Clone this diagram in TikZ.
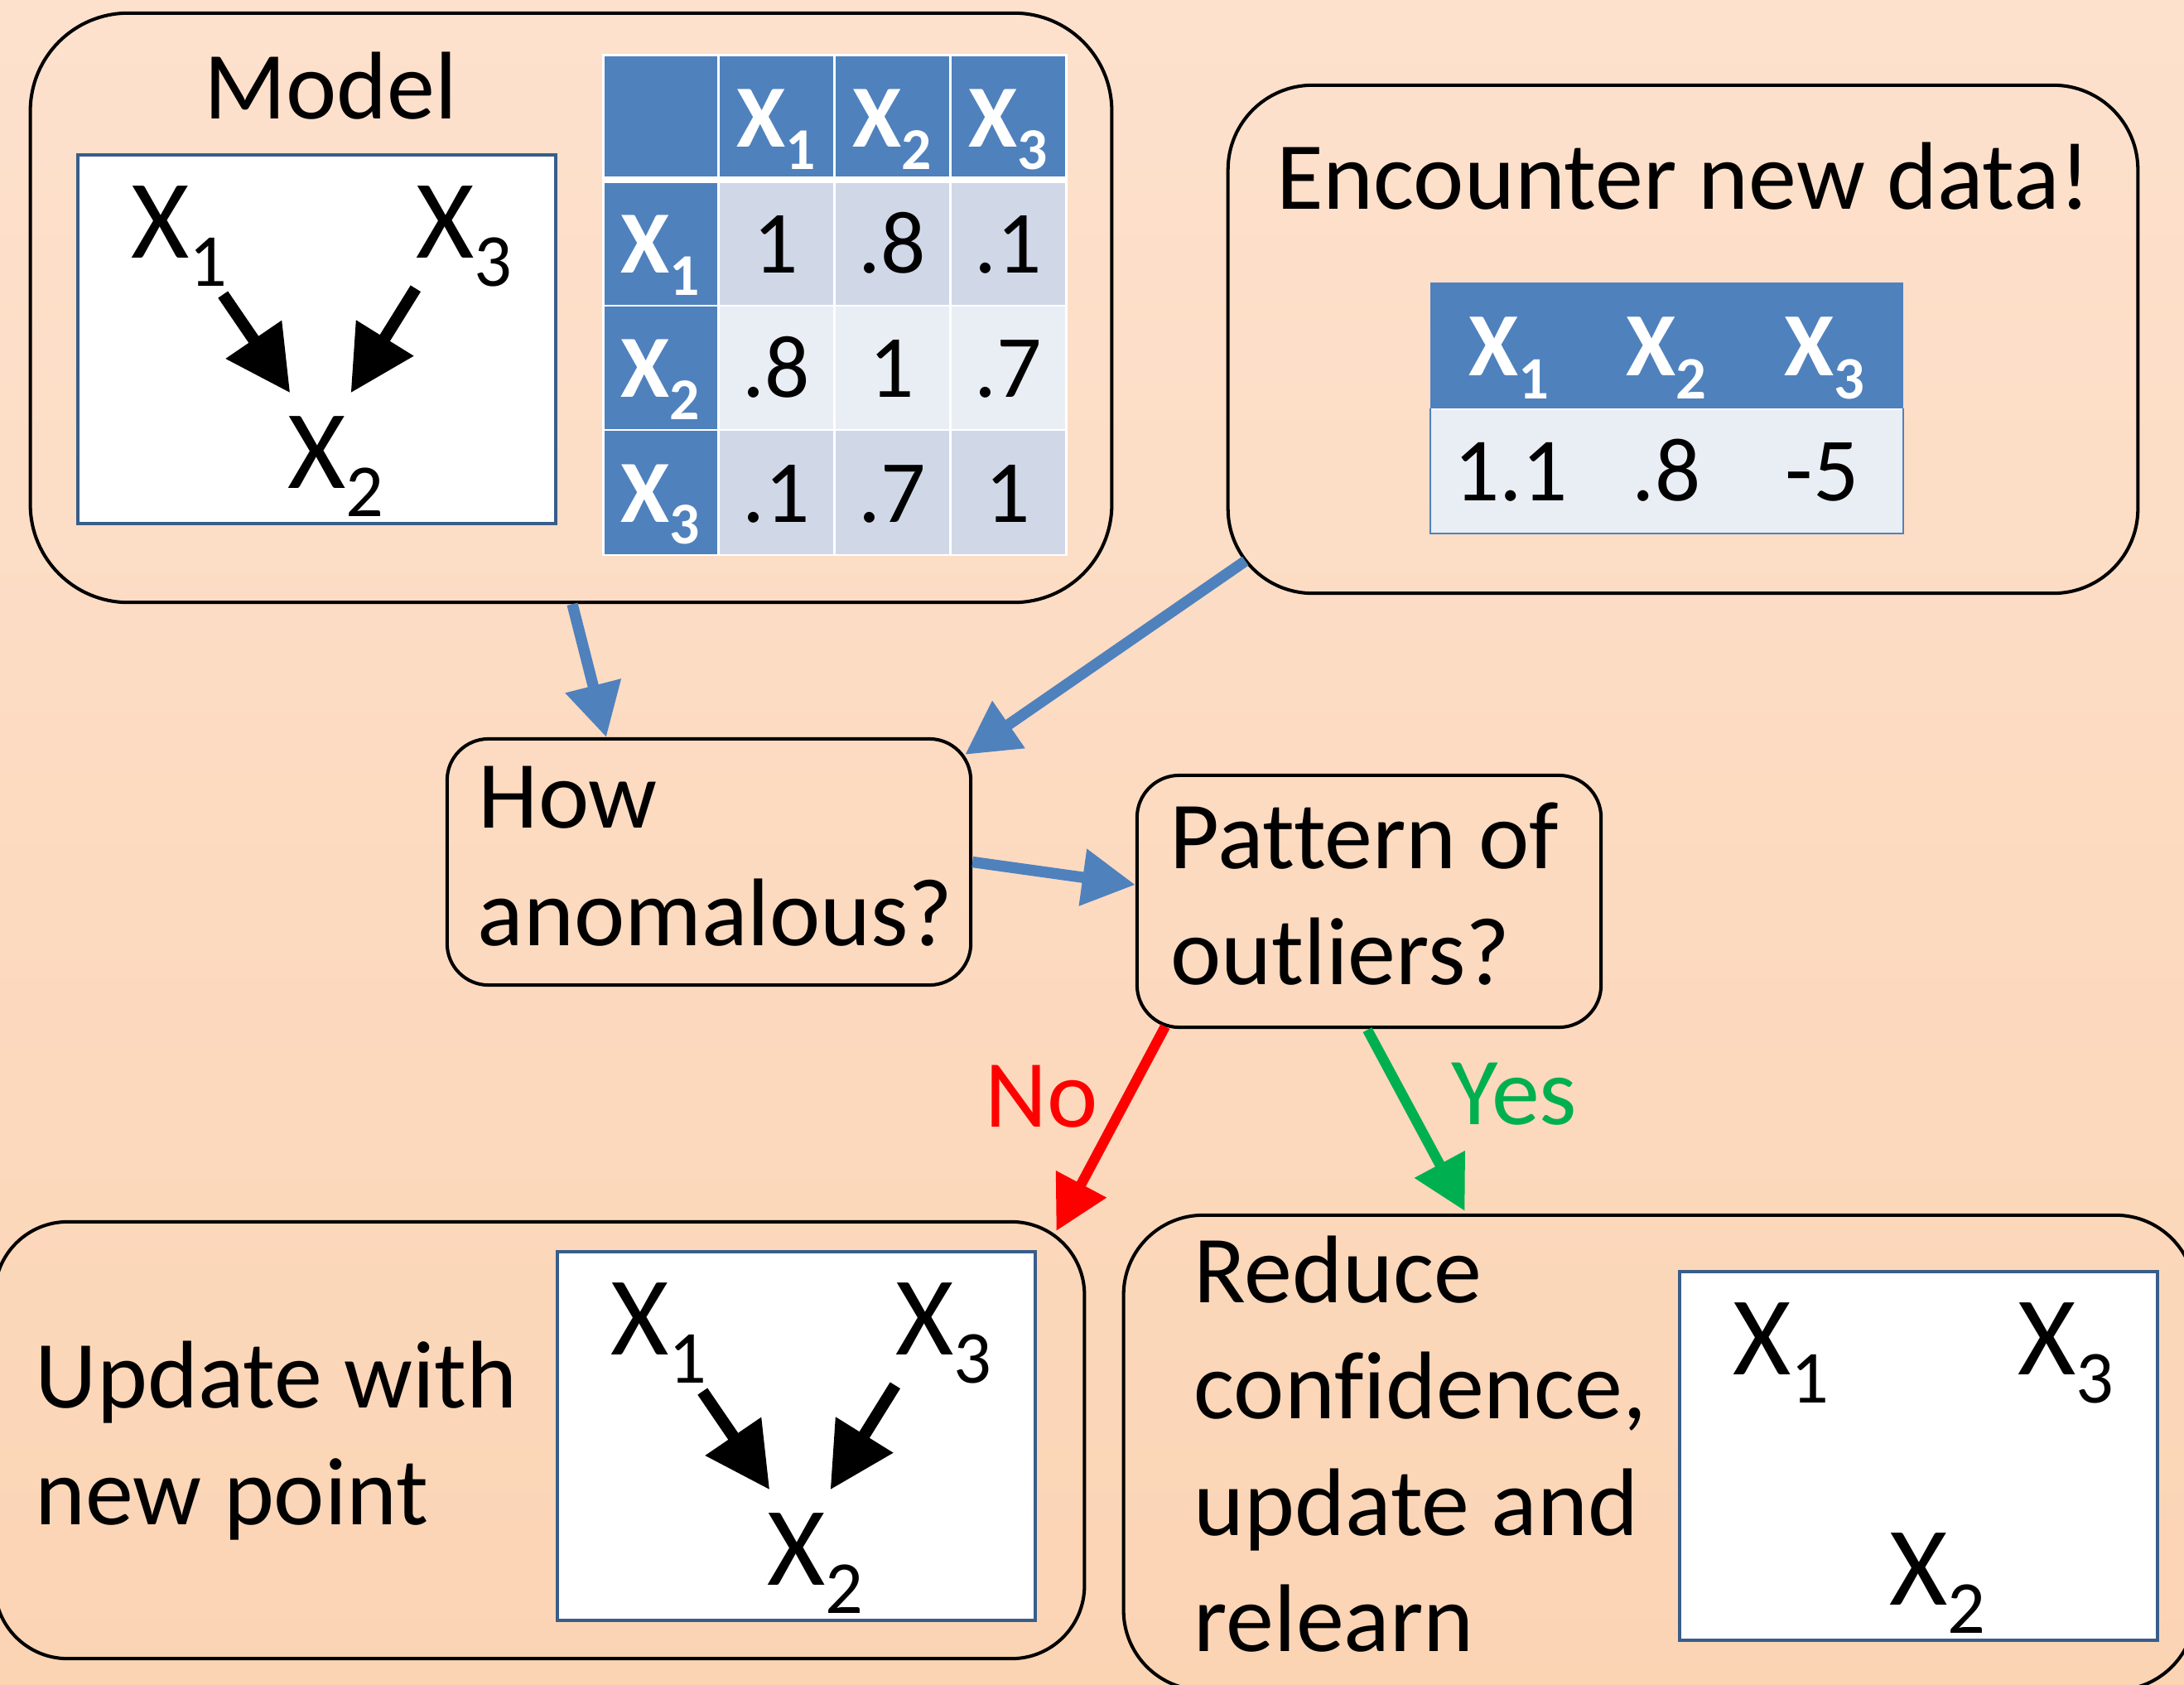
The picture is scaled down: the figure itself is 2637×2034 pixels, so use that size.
\documentclass[tikz,border=0pt]{standalone}
\usepackage{fontspec}
\setmainfont{Carlito}[Ligatures=NoCommon]
\usepackage{graphicx}
\usetikzlibrary{arrows.meta,calc}

\definecolor{bgtop}{RGB}{253,225,205}
\definecolor{bgbot}{RGB}{251,212,180}
\definecolor{hdrblue}{RGB}{79,129,189}
\definecolor{rowdark}{RGB}{208,216,232}
\definecolor{rowlight}{RGB}{233,237,244}
\definecolor{frameblue}{RGB}{56,93,138}
\definecolor{flowblue}{RGB}{79,129,189}
\definecolor{nored}{RGB}{255,0,0}
\definecolor{yesgreen}{RGB}{0,176,80}

% subscript index: two thirds size, lowered a quarter em
\newcommand\subidx[1]{\raisebox{-0.25em}{\scalebox{0.667}{#1}}}

\tikzset{
  panel/.style={draw=black, line width=1.15pt, rectangle, inner sep=0pt},
  graphframe/.style={draw=frameblue, fill=white, line width=1.3pt, rectangle,
    inner sep=0pt, minimum width=5.77cm, minimum height=4.45cm},
  bodytext/.style={inner sep=0pt, anchor=base west, font=\fontsize{33}{40}\selectfont},
  varlabel/.style={inner sep=0pt, anchor=base west, font=\fontsize{38.5}{44}\selectfont},
  celltext/.style={inner sep=0pt, anchor=base, font=\fontsize{30.5}{36}\selectfont},
  cellhead/.style={inner sep=0pt, anchor=base, text=white, font=\fontsize{30.5}{36}\selectfont\bfseries},
  flow/.style={line width=3.8pt, -{Triangle[length=0.64cm,width=0.66cm]}},
  edgearrow/.style={line width=4.1pt, -{Triangle[length=0.78cm,width=0.78cm]}},
}

% white frame with three variables; #1 name prefix, #2 centre
\newcommand\causalgraph[2]{%
  \node[graphframe] (#1) at (#2) {};
  \node[varlabel] (#1x1) at ($(#1.north west)+(66,127)$) {X\subidx{1}};
  \node[varlabel] (#1x3) at ($(#1.north west)+(410,127)$) {X\subidx{3}};
  \node[varlabel] (#1x2) at ($(#1.north west)+(255,405)$) {X\subidx{2}};
}
% the two causal edges X1 -> X2 <- X3
\newcommand\causaledges[1]{%
  \draw[edgearrow] ($(#1x1.base west)+(111.7,44)$) -- ($(#1x2.base west)+(3.7,-115.3)$);
  \draw[edgearrow] ($(#1x3.base west)+(0.3,36.7)$) -- ($(#1x2.base west)+(77,-115.3)$);
}

\begin{document}
\begin{tikzpicture}[x=0.01cm, y=-0.01cm]
\useasboundingbox (0,0) rectangle (2637,2034);
\clip (0,0) rectangle (2637,2034);
\shade[top color=bgtop, bottom color=bgbot] (0,0) rectangle (2637,2034);

% ---------- panels ----------
\node[panel, rounded corners=1.18cm, minimum width=13.05cm, minimum height=7.11cm] (model) at (689.5,371.5) {};
\node[panel, rounded corners=1.02cm, minimum width=10.98cm, minimum height=6.13cm] (enc) at (2032,409.5) {};
\node[panel, rounded corners=0.5cm, minimum width=6.32cm, minimum height=2.97cm] (how) at (856,1040.5) {};
\node[panel, rounded corners=0.51cm, minimum width=5.60cm, minimum height=3.04cm] (pattern) at (1653,1088) {};
\node[panel, rounded corners=0.88cm, minimum width=13.15cm, minimum height=5.27cm] (update) at (651.5,1738.5) {};
\node[panel, rounded corners=0.96cm, minimum width=12.93cm, minimum height=5.73cm] (reduce) at (2003.5,1753.5) {};

% ---------- model panel ----------
\node[bodytext, anchor=base] (modeltitle) at (399,144) {Model};
\causalgraph{gm}{382.5,409.5}
\causaledges{gm}

% correlation table
\fill[hdrblue] (728,67) rectangle (1287,217);
\fill[hdrblue] (728,217) rectangle (867,670);
\fill[rowdark] (867,217) rectangle (1287,369);
\fill[rowlight] (867,369) rectangle (1287,519);
\fill[rowdark] (867,519) rectangle (1287,670);
\draw[white, line width=0.85pt] (867,67) -- (867,670);
\draw[white, line width=0.85pt] (1007,67) -- (1007,670);
\draw[white, line width=0.85pt] (1147,67) -- (1147,670);
\draw[white, line width=0.85pt] (728,369) -- (1287,369);
\draw[white, line width=0.85pt] (728,519) -- (1287,519);
\draw[white, line width=2.3pt] (728,217) -- (1287,217);
\draw[white, line width=0.85pt] (728,67) rectangle (1287,670);

\node[cellhead] (mc1) at (937,178) {X\subidx{1}};
\node[cellhead] (mc2) at (1077,178) {X\subidx{2}};
\node[cellhead] (mc3) at (1217,178) {X\subidx{3}};
\node[cellhead] (mr1) at (797.5,330) {X\subidx{1}};
\node[cellhead] (mr2) at (797.5,480) {X\subidx{2}};
\node[cellhead] (mr3) at (797.5,630) {X\subidx{3}};
\node[celltext] (m11) at (937,330) {1};
\node[celltext] (m12) at (1077,330) {.8};
\node[celltext] (m13) at (1217,330) {.1};
\node[celltext] (m21) at (937,480) {.8};
\node[celltext] (m22) at (1077,480) {1};
\node[celltext] (m23) at (1217,480) {.7};
\node[celltext] (m31) at (937,630) {.1};
\node[celltext] (m32) at (1077,630) {.7};
\node[celltext] (m33) at (1217,630) {1};

% ---------- new data panel ----------
\node[bodytext, anchor=base] (enctitle) at (2033,253) {Encounter new data!};
\fill[hdrblue] (1727,341) rectangle (2298,494);
\filldraw[fill=rowlight, draw=hdrblue, line width=0.6pt] (1727,494) rectangle (2298,644);
\draw[white, line width=0.5pt] (1728,494) -- (2297,494);
\node[cellhead, font=\fontsize{31}{36}\selectfont\bfseries] (n1) at (1822,454) {X\subidx{1}};
\node[cellhead, font=\fontsize{31}{36}\selectfont\bfseries] (n2) at (2012,454) {X\subidx{2}};
\node[cellhead, font=\fontsize{31}{36}\selectfont\bfseries] (n3) at (2203,454) {X\subidx{3}};
\node[celltext, font=\fontsize{31}{36}\selectfont] (v1) at (1824,604) {1.1};
\node[celltext, font=\fontsize{31}{36}\selectfont] (v2) at (2012,604) {.8};
\node[celltext, font=\fontsize{31}{36}\selectfont] (v3) at (2200,604) {-5};

% ---------- decision panels ----------
\node[bodytext] (howa) at (577,999) {How};
\node[bodytext] (howb) at (576,1141) {anomalous?};
\node[bodytext] (pata) at (1412,1048) {Pattern of};
\node[bodytext] (patb) at (1413,1188) {outliers?};

% ---------- outcome panels ----------
\node[bodytext] (upa) at (42,1699) {Update with};
\node[bodytext] (upb) at (42,1840) {new point};
\causalgraph{gu}{961.5,1733.5}
\causaledges{gu}

\node[bodytext] (rea) at (1441,1572) {Reduce};
\node[bodytext] (reb) at (1441,1712) {confidence,};
\node[bodytext] (rec) at (1441,1853) {update and};
\node[bodytext] (red) at (1441,1993) {relearn};
\causalgraph{gr}{2316.5,1757.5}

% ---------- flow arrows ----------
\draw[flow, flowblue] ($(model.south)+(1.5,0)$) -- ($(how.north)+(-124,0)$);
\draw[flow, flowblue] ($(enc.south west)+(23,-41)$) -- ($(how.north east)+(-9,21)$);
\draw[flow, flowblue] (how.east) -- ($(pattern.west)+(0,-20)$);
\draw[flow, nored, line width=3.5pt] ($(pattern.south west)+(36,-3)$) -- ($(update.north east)+(-36,13)$);
\draw[flow, yesgreen, line width=3.5pt] ($(pattern.south)+(-2,1)$) -- ($(reduce.north west)+(414,-3)$);

\node[bodytext, text=nored] (nolabel) at (1189,1360) {No};
\node[bodytext, text=yesgreen] (yeslabel) at (1752,1357) {Yes};
\end{tikzpicture}
\end{document}
